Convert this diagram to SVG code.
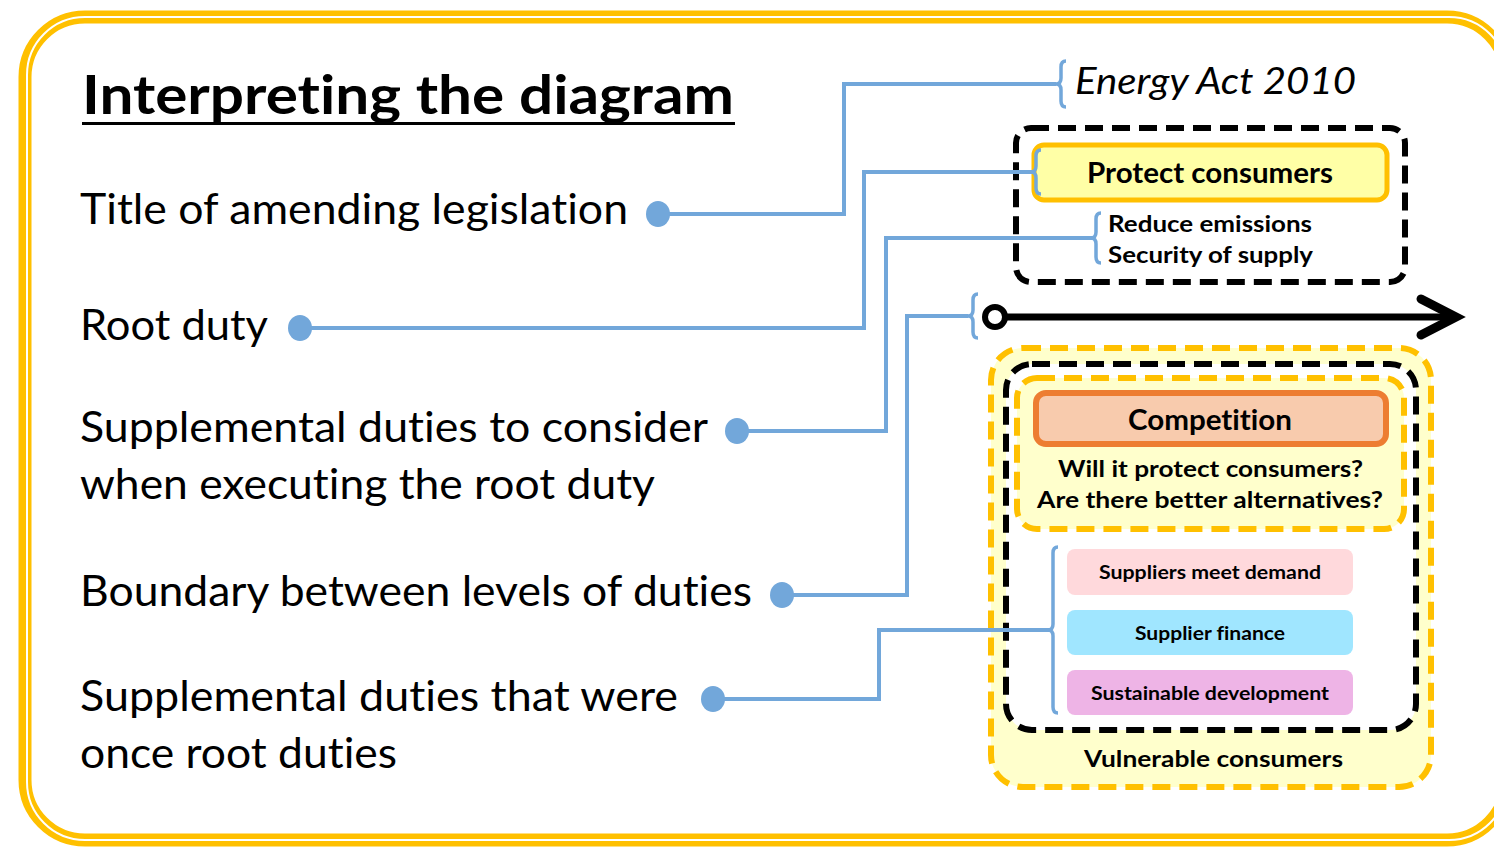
<svg xmlns="http://www.w3.org/2000/svg" width="1494" height="854" viewBox="0 0 1494 854">
<defs>
<style>
text{font-variant-ligatures:none;font-feature-settings:"liga" 0,"clig" 0}
.lbl{font-family:Lato,"Open Sans","Liberation Sans",sans-serif;font-size:42px;fill:#000}
.b{font-family:Lato,"Open Sans","Liberation Sans",sans-serif;font-weight:bold;fill:#000}
.conn{fill:none;stroke:#72A7DA;stroke-width:4}
.brace{fill:none;stroke:#72A7DA;stroke-width:3.5}
.dot{fill:#72A7DA}
.bdash{stroke:#000;stroke-width:6;stroke-dasharray:18 9}
.ydash{stroke:#FFC000;stroke-width:6;stroke-dasharray:18 9}
</style>
</defs>
<rect width="1494" height="854" fill="#fff"/>
<g id="frame">
<rect x="25" y="17" width="1482" height="823" rx="60" fill="none" stroke="#FFC000" stroke-width="13"/>
<rect x="27" y="17" width="1480" height="823" rx="58" fill="none" stroke="#fff" stroke-width="2"/>
</g>
<g id="title">
<text class="b" x="82" y="114" font-size="53" textLength="652" lengthAdjust="spacingAndGlyphs">Interpreting the diagram</text>
<rect x="82" y="122" width="653" height="3" fill="#000"/>
</g>
<g id="labels">
<text class="lbl" x="80" y="224" textLength="548" lengthAdjust="spacingAndGlyphs">Title of amending legislation</text>
<text class="lbl" x="80" y="340" textLength="188" lengthAdjust="spacingAndGlyphs">Root duty</text>
<text class="lbl" x="80" y="442" textLength="628" lengthAdjust="spacingAndGlyphs">Supplemental duties to consider</text>
<text class="lbl" x="80" y="499" textLength="575" lengthAdjust="spacingAndGlyphs">when executing the root duty</text>
<text class="lbl" x="80" y="606" textLength="672" lengthAdjust="spacingAndGlyphs">Boundary between levels of duties</text>
<text class="lbl" x="80" y="711" textLength="598" lengthAdjust="spacingAndGlyphs">Supplemental duties that were</text>
<text class="lbl" x="80" y="768" textLength="317" lengthAdjust="spacingAndGlyphs">once root duties</text>
</g>
<g id="act">
<text x="1075" y="94" font-family="Lato,'Open Sans','Liberation Sans',sans-serif" font-style="italic" font-size="36" textLength="281" lengthAdjust="spacingAndGlyphs">Energy Act 2010</text>
</g>
<g id="root-box">
<rect class="bdash" x="1016" y="128" width="389" height="154" rx="15" fill="none"/>
<rect x="1034" y="145" width="353" height="55" rx="10" fill="#FFFFA6" stroke="#FFC000" stroke-width="5"/>
<text class="b" x="1087" y="183" font-size="28" textLength="246" lengthAdjust="spacingAndGlyphs">Protect consumers</text>
<text class="b" x="1108" y="232" font-size="23" textLength="204" lengthAdjust="spacingAndGlyphs">Reduce emissions</text>
<text class="b" x="1108" y="263" font-size="23" textLength="205" lengthAdjust="spacingAndGlyphs">Security of supply</text>
</g>
<g id="boundary">
<line x1="1004" y1="317" x2="1452" y2="317" stroke="#000" stroke-width="7"/>
<circle cx="995" cy="317" r="10" fill="#fff" stroke="#000" stroke-width="6"/>
<polyline points="1421,299 1456,317 1421,335" fill="none" stroke="#000" stroke-width="9" stroke-linecap="round" stroke-linejoin="miter"/>
</g>
<g id="lower-box">
<rect class="ydash" x="991" y="348" width="440" height="439" rx="32" fill="#FFFFCC"/>
<rect class="bdash" x="1006" y="364" width="410" height="366" rx="26" fill="#fff"/>
<rect class="ydash" x="1017" y="378" width="387" height="151" rx="20" fill="#FFFFCC"/>
<rect x="1036" y="393" width="350" height="51" rx="10" fill="#F8CBAD" stroke="#ED7D31" stroke-width="6"/>
<text class="b" x="1128" y="430" font-size="28" textLength="164" lengthAdjust="spacingAndGlyphs">Competition</text>
<text class="b" x="1058" y="477" font-size="23" textLength="305" lengthAdjust="spacingAndGlyphs">Will it protect consumers?</text>
<text class="b" x="1037" y="508" font-size="23" textLength="346" lengthAdjust="spacingAndGlyphs">Are there better alternatives?</text>
<text class="b" x="1084" y="767" font-size="23" textLength="259" lengthAdjust="spacingAndGlyphs">Vulnerable consumers</text>
</g>
<g id="old-duties">
<rect x="1067" y="549" width="286" height="46" rx="8" fill="#FFD9DC"/>
<text class="b" x="1099" y="579" font-size="19" textLength="222" lengthAdjust="spacingAndGlyphs">Suppliers meet demand</text>
<rect x="1067" y="610" width="286" height="45" rx="8" fill="#A0E6FF"/>
<text class="b" x="1135" y="640" font-size="19" textLength="150" lengthAdjust="spacingAndGlyphs">Supplier finance</text>
<rect x="1067" y="670" width="286" height="45" rx="8" fill="#EEB4E6"/>
<text class="b" x="1091" y="700" font-size="19" textLength="238" lengthAdjust="spacingAndGlyphs">Sustainable development</text>
</g>
<g id="connectors">
<polyline class="conn" points="658,214 844,214 844,84 1056,84"/>
<polyline class="conn" points="300,328 864,328 864,172 1032,172"/>
<polyline class="conn" points="737,431 886,431 886,238 1092,238"/>
<polyline class="conn" points="782,595 907,595 907,316 968,316"/>
<polyline class="conn" points="713,699 879,699 879,630 1052,630"/>
<path class="brace" d="M1066,61 Q1061,61 1061,67 L1061,78 Q1061,84 1056,84 Q1061,84 1061,90 L1061,101 Q1061,107 1066,107"/>
<path class="brace" d="M1041,150 Q1036,150 1036,156 L1036,166 Q1036,172 1031,172 Q1036,172 1036,178 L1036,188 Q1036,194 1041,194"/>
<path class="brace" d="M1101,213 Q1096,213 1096,219 L1096,232 Q1096,238 1091,238 Q1096,238 1096,244 L1096,257 Q1096,263 1101,263"/>
<path class="brace" d="M978,294 Q973,294 973,300 L973,310 Q973,316 968,316 Q973,316 973,322 L973,332 Q973,338 978,338"/>
<path class="brace" d="M1058,547 Q1053,547 1053,553 L1053,624 Q1053,630 1048,630 Q1053,630 1053,636 L1053,707 Q1053,713 1058,713"/>
<ellipse class="dot" cx="658" cy="214" rx="12" ry="13"/>
<ellipse class="dot" cx="300" cy="328" rx="12" ry="13"/>
<ellipse class="dot" cx="737" cy="431" rx="12" ry="13"/>
<ellipse class="dot" cx="782" cy="595" rx="12" ry="13"/>
<ellipse class="dot" cx="713" cy="699" rx="12" ry="13"/>
</g>
</svg>
